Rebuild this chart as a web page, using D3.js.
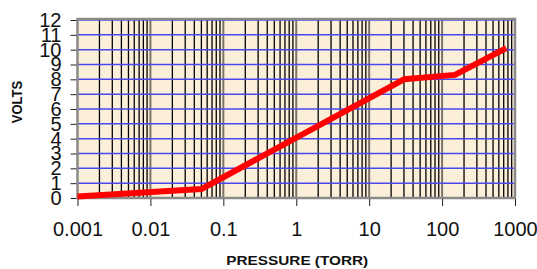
<!DOCTYPE html>
<html>
<head>
<meta charset="utf-8">
<script src="https://cdn.jsdelivr.net/npm/d3@7"></script>
<style>
  body { margin: 0; background: #fff; }
  svg { display: block; font-family: "Liberation Sans", Arial, sans-serif; }
</style>
</head>
<body>
<div id="chart"></div>
<script>
// Sensor output vs pressure (log x axis)
const pressure = [0.001, 0.05, 30, 150, 760];
const volts = [0.1, 0.6, 8.0, 8.3, 10.1];

const xTicks = [0.001, 0.01, 0.1, 1, 10, 100, 1000];
const yTicks = [0, 1, 2, 3, 4, 5, 6, 7, 8, 9, 10, 11, 12];

const width = 537;
const height = 269;
const plot = { left: 77.5, right: 515, top: 20, bottom: 198 };

const svg = d3.select("#chart").append("svg")
    .attr("width", width)
    .attr("height", height);

const x = d3.scaleLog()
    .domain([0.001, 1000])
    .range([plot.left, plot.right]);

const y = d3.scaleLinear()
    .domain([0, 12])
    .range([plot.bottom, plot.top]);

// plot background
svg.append("rect")
    .attr("x", plot.left)
    .attr("y", plot.top)
    .attr("width", plot.right - plot.left)
    .attr("height", plot.bottom - plot.top)
    .attr("fill", "#fcefd9");

// vertical log grid (1..9 per decade)
const minor = x.ticks().filter(d => d > 0.001 && d < 1000);
svg.append("g").selectAll("line")
    .data(minor)
    .join("line")
    .attr("x1", d => x(d))
    .attr("x2", d => x(d))
    .attr("y1", plot.top)
    .attr("y2", plot.bottom)
    .attr("stroke", d => xTicks.includes(d) ? "#7a7468" : "#000")
    .attr("stroke-width", d => xTicks.includes(d) ? 2 : 1.3);

// horizontal grid
svg.append("g").selectAll("line")
    .data(yTicks.slice(1))
    .join("line")
    .attr("x1", plot.left)
    .attr("x2", plot.right)
    .attr("y1", d => y(d))
    .attr("y2", d => y(d))
    .attr("stroke", "#4848f0")
    .attr("stroke-width", 1.5);

// border
svg.append("rect")
    .attr("x", plot.left)
    .attr("y", plot.top - 1)
    .attr("width", plot.right - plot.left)
    .attr("height", plot.bottom - plot.top + 1)
    .attr("fill", "none")
    .attr("stroke", "#8a8a8a")
    .attr("stroke-width", 2.5);

// axes
const xAxis = svg.append("g")
    .attr("transform", `translate(0, ${plot.bottom + 1})`)
    .call(d3.axisBottom(x).tickValues(xTicks).tickSize(7).tickPadding(16)
        .tickFormat(d3.format("~g")));
xAxis.select(".domain").remove();
xAxis.selectAll("line").attr("stroke", "#222");
xAxis.selectAll("text")
    .attr("font-size", "20px")
    .attr("font-family", "Liberation Sans, Arial, sans-serif")
    .attr("fill", "#111");

const yAxis = svg.append("g")
    .attr("transform", `translate(${plot.left - 1}, 0)`)
    .call(d3.axisLeft(y).tickValues(yTicks).tickSize(6).tickPadding(9));
yAxis.select(".domain").remove();
yAxis.selectAll("line").attr("stroke", "#222");
yAxis.selectAll("text")
    .attr("font-size", "20px")
    .attr("font-family", "Liberation Sans, Arial, sans-serif")
    .attr("fill", "#111");

// data line
const line = d3.line()
    .x((d, i) => x(pressure[i]))
    .y(d => y(d));

svg.append("path")
    .datum(volts)
    .attr("d", line)
    .attr("fill", "none")
    .attr("stroke", "#ff0000")
    .attr("stroke-width", 6)
    .attr("stroke-linejoin", "round");

// axis titles (slightly stretched horizontally like the original)
svg.append("text")
    .attr("transform", `translate(${(plot.left + plot.right) / 2 + 1}, 265) scale(1.18, 1)`)
    .attr("text-anchor", "middle")
    .attr("font-size", "13px")
    .attr("font-weight", "bold")
    .attr("fill", "#111")
    .text("PRESSURE (TORR)");

svg.append("text")
    .attr("transform", "translate(22, 102) scale(1.18, 1) rotate(-90)")
    .attr("text-anchor", "middle")
    .attr("font-size", "13px")
    .attr("font-weight", "bold")
    .attr("fill", "#111")
    .text("VOLTS");
</script>
</body>
</html>
